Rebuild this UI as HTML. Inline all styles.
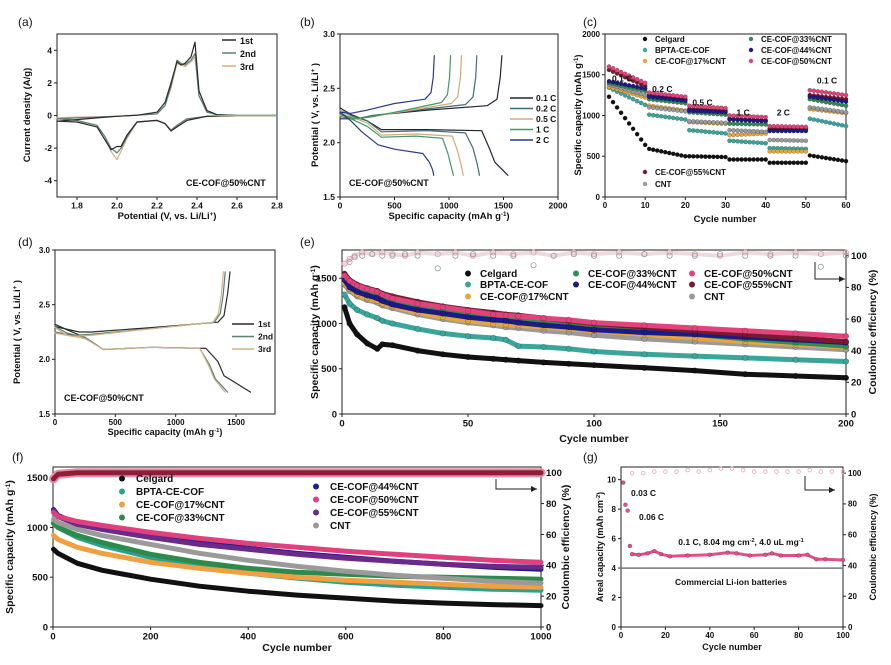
<!DOCTYPE html>
<html><head><meta charset="utf-8">
<style>
html,body{margin:0;padding:0;background:#fff;width:891px;height:665px;overflow:hidden;}
svg{display:block;font-family:"Liberation Sans",Arial,sans-serif;overflow:hidden;}
</style></head>
<body>
<svg id="fig" width="891" height="665" viewBox="0 0 891 665" xmlns="http://www.w3.org/2000/svg">
<rect x="0" y="0" width="891" height="665" fill="#fff"/>
</svg>
<script>
// ---------- Panel (a) CV data ----------
const aV  = [1.7,1.8,1.9,2.0,2.1,2.2,2.24,2.27,2.3,2.32,2.34,2.37,2.39,2.41,2.45,2.5,2.6,2.8, 2.6,2.45,2.35,2.3,2.27,2.24,2.2,2.1,2.05,2.02,2.0,1.97,1.94,1.9,1.8,1.7];
const a1I = [-0.35,-0.25,-0.15,-0.05,0.02,0.2,0.8,2.0,3.3,3.1,3.2,3.6,4.5,1.5,0.3,0.05,0,0, 0,-0.05,-0.3,-0.7,-0.95,-0.5,-0.3,-0.4,-1.2,-1.9,-1.9,-2.1,-1.5,-0.7,-0.4,-0.35];
const a2I = [-0.2,-0.15,-0.1,-0.05,0.02,0.1,0.6,1.8,3.4,3.2,3.1,3.4,3.8,1.2,0.2,0.05,0,0, 0,-0.05,-0.2,-0.6,-0.9,-0.5,-0.3,-0.4,-1.3,-2.0,-2.3,-2.0,-1.3,-0.6,-0.3,-0.2];
const a3I = [-0.15,-0.1,-0.08,-0.04,0.02,0.1,0.6,1.7,3.2,3.1,3.0,3.3,3.6,1.2,0.2,0.05,0,0, 0,-0.05,-0.2,-0.6,-0.9,-0.5,-0.3,-0.4,-1.4,-2.2,-2.7,-2.2,-1.3,-0.6,-0.3,-0.15];
const aLabels = ["1st","2nd","3rd"];

// ---------- Panel (b) rate charge/discharge ----------
const bRates = ["0.1 C","0.2 C","0.5 C","1 C","2 C"];
const bDisCap = [[0,100,250,380,800,1300,1370,1420,1540],[0,100,250,380,800,1150,1220,1260,1280],[0,100,250,380,700,1030,1080,1110,1130],[0,100,250,380,700,940,990,1020,1040],[0,100,200,350,500,760,820,850,860]];
const bDisV = [[2.32,2.26,2.2,2.12,2.12,2.11,1.95,1.82,1.7],[2.3,2.25,2.2,2.1,2.11,2.09,1.95,1.8,1.7],[2.3,2.24,2.18,2.07,2.08,2.06,1.92,1.8,1.7],[2.28,2.22,2.15,2.05,2.06,2.04,1.9,1.78,1.7],[2.28,2.2,2.1,1.98,1.94,1.9,1.82,1.75,1.7]];
const bChCap = [[0,150,300,800,1350,1440,1470,1485],[0,150,300,700,1150,1220,1245,1255],[0,150,300,650,1020,1080,1105,1115],[0,150,300,600,930,985,1005,1015],[0,100,250,500,780,835,855,865]];
const bChV = [[2.22,2.22,2.25,2.3,2.34,2.4,2.6,2.8],[2.24,2.22,2.25,2.3,2.35,2.42,2.6,2.8],[2.25,2.22,2.24,2.3,2.36,2.42,2.6,2.8],[2.26,2.22,2.24,2.3,2.37,2.44,2.6,2.8],[2.28,2.27,2.3,2.36,2.4,2.46,2.6,2.8]];

// ---------- Panel (c) rate performance (block start/end per rate) ----------
const cNames = ["Celgard","BPTA-CE-COF","CE-COF@17%CNT","CE-COF@33%CNT","CE-COF@44%CNT","CE-COF@50%CNT","CE-COF@55%CNT","CNT"];
const cCelgard = [1230,640, 590,500, 500,490, 460,460, 420,420, 510,440];
const cBPTA    = [1340,1130, 1010,950, 820,780, 690,660, 600,590, 960,870];
const c17      = [1350,1220, 1120,1060, 920,900, 760,780, 560,560, 1080,1030];
const c33      = [1400,1300, 1200,1150, 1040,1010, 900,890, 820,820, 1200,1120];
const c44      = [1420,1330, 1230,1180, 1060,1040, 950,930, 810,810, 1230,1170];
const c50      = [1600,1400, 1280,1230, 1120,1090, 1000,980, 870,860, 1310,1250];
const c55      = [1560,1360, 1250,1200, 1080,1060, 960,940, 840,840, 1250,1200];
const cCNT     = [1380,1250, 1100,1050, 930,910, 820,800, 700,690, 1100,1040];
const cRateLabels = ["0.1 C","0.2 C","0.5 C","1 C","2 C","0.1 C"];

// ---------- Panel (d) first three cycles ----------
const dDisCap = [[0,100,250,400,800,1250,1350,1400,1620],[0,100,250,400,800,1200,1280,1330,1430],[0,100,250,400,800,1200,1270,1320,1410]];
const dDisV = [[2.32,2.27,2.2,2.09,2.11,2.1,1.98,1.85,1.7],[2.3,2.24,2.2,2.09,2.11,2.1,1.95,1.82,1.7],[2.29,2.22,2.19,2.09,2.11,2.1,1.95,1.82,1.7]];
const dChCap = [[0,200,300,800,1350,1400,1430,1450],[0,150,300,800,1320,1370,1395,1410],[0,150,300,800,1310,1355,1380,1395]];
const dChV = [[2.3,2.25,2.25,2.29,2.34,2.4,2.6,2.8],[2.25,2.22,2.23,2.28,2.34,2.42,2.6,2.8],[2.24,2.21,2.22,2.28,2.34,2.42,2.6,2.8]];

// ---------- Panel (e) 200-cycle ----------
const eCycles = [1,3,6,10,14,16,20,30,40,50,60,65,70,80,90,100,120,140,160,180,200];
const eCelgard = [1180,1000,880,780,720,770,760,700,660,630,610,600,590,570,555,540,510,480,440,420,400];
const eBPTA    = [1320,1220,1150,1100,1060,1030,1000,940,890,860,840,820,750,740,720,690,660,640,620,600,580];
const e17      = [1450,1380,1320,1280,1250,1220,1190,1120,1070,1030,1000,990,980,960,940,920,880,840,800,770,740];
const e33      = [1500,1420,1370,1330,1300,1270,1250,1180,1130,1090,1050,1040,1030,1010,990,970,930,880,830,790,750];
const e44      = [1480,1400,1350,1310,1280,1250,1210,1150,1110,1070,1040,1030,1010,980,960,930,900,880,850,820,790];
const e50      = [1530,1470,1420,1380,1350,1320,1280,1220,1180,1140,1100,1090,1080,1060,1040,1010,980,950,920,890,860];
const e55      = [1550,1480,1430,1390,1360,1330,1300,1240,1190,1150,1120,1100,1090,1060,1030,1000,960,920,880,840,800];
const eCNT     = [1430,1360,1300,1260,1230,1200,1170,1100,1050,1010,980,960,950,920,900,870,830,800,770,740,710];
const eCECycles = [1,3,5,8,12,16,20,25,30,38,45,52,60,68,76,84,92,100,110,120,130,140,150,160,170,180,190,200];
const eCE1 = [88,96,99,100,101,100,100,101,100,92,100,101,100,100,94,100,101,100,100,101,100,100,101,100,100,100,93,100];
const eCE2 = [95,98,100,102,101,102,101,100,102,101,102,100,102,101,102,100,102,101,102,101,102,101,100,102,101,102,101,102];

// ---------- Panel (f) 1000-cycle ----------
const fCycles = [1,10,50,100,200,300,400,500,600,700,800,900,1000];
const fCelgard = [780,740,640,570,480,410,360,320,290,260,240,225,215];
const fBPTA    = [1050,1000,900,820,700,610,540,490,450,420,400,380,370];
const f17      = [920,880,800,740,650,590,540,500,470,450,430,410,400];
const f33      = [1040,1000,920,850,730,650,590,550,530,510,500,490,480];
const f44      = [1180,1120,1040,990,920,850,790,740,700,660,630,600,580];
const f50      = [1150,1110,1060,1020,950,890,840,800,760,730,700,670,650];
const f55      = [1170,1110,1030,980,900,830,780,730,690,660,630,610,600];
const fCNT     = [1080,1050,980,920,830,740,670,610,560,520,490,460,440];
const fCE      = [96,99,100,100,100,100,100,100,100,100,100,100,100];

// ---------- Panel (g) areal capacity ----------
const gCycles = [1,2,3,4,5,8,12,15,18,22,30,40,48,52,58,65,68,72,80,84,88,92,100];
const gCap = [9.8,8.3,7.9,5.5,4.95,4.9,5.0,5.15,4.95,4.8,4.85,4.9,5.05,5.0,4.85,4.9,5.0,4.85,4.85,4.9,4.6,4.6,4.55];
const gCECycles = [5,10,15,20,25,30,35,40,45,50,55,60,65,70,75,80,85,90,95,100];
const gCE = [100,100,101,101,101,102,101,102,103,103,102,101,101,101,101,101,102,101,101,101];
const gCommercial = [4.0];

// ================= drawing helpers =================
const NS = "http://www.w3.org/2000/svg";
const svg = document.getElementById("fig");
function mk(tag, attrs, name, parent){
  const el = document.createElementNS(NS, tag);
  for (const k in attrs) el.setAttribute(k, attrs[k]);
  
  
  (parent || svg).appendChild(el);
  return el;
}
function txt(x, y, s, o, name){
  o = o || {};
  const el = mk("text", {x:x, y:y, "font-size":o.size||9, "font-weight":o.weight||"bold", "text-anchor":o.anchor||"start", fill:o.fill||"#111"}, name);
  if (o.rot) el.setAttribute("transform", "rotate(" + o.rot + " " + x + " " + y + ")");
  el.textContent = s;
  return el;
}
function supTxt(x, y, parts, o, name){
  o = o || {};
  const el = mk("text", {x:x, y:y, "font-size":o.size||9, "font-weight":"bold", "text-anchor":o.anchor||"middle", fill:"#111"}, name);
  if (o.rot) el.setAttribute("transform", "rotate(" + o.rot + " " + x + " " + y + ")");
  parts.forEach(p => {
    const t = document.createElementNS(NS, "tspan");
    if (p[1]) { t.setAttribute("baseline-shift", "super"); t.setAttribute("font-size", (o.size||9)*0.65); }
    t.textContent = p[0];
    el.appendChild(t);
  });
  return el;
}
function axes(p){
  const sx = v => p.x0 + (v - p.xmin) / (p.xmax - p.xmin) * (p.x1 - p.x0);
  const sy = v => p.y1 - (v - p.ymin) / (p.ymax - p.ymin) * (p.y1 - p.y0);
  const sy2 = p.y2 ? (v => p.y1 - (v - p.y2.min) / (p.y2.max - p.y2.min) * (p.y1 - p.y0)) : null;
  const fs = p.fs || 9;
  p.xticks.forEach((t, i) => {
    mk("line", {x1:sx(t), x2:sx(t), y1:p.y1, y2:p.y1+3, stroke:"#222", "stroke-width":1}, p.id + "-x-tick");
    txt(sx(t), p.y1 + fs + 3, p.xlab ? p.xlab[i] : String(t), {anchor:"middle", size:fs}, p.id + "-x-tick-label");
  });
  p.yticks.forEach((t, i) => {
    mk("line", {x1:p.x0-3, x2:p.x0, y1:sy(t), y2:sy(t), stroke:"#222", "stroke-width":1}, p.id + "-y-tick");
    txt(p.x0 - 5, sy(t) + fs*0.35, p.ylab ? p.ylab[i] : String(t), {anchor:"end", size:fs}, p.id + "-y-tick-label");
  });
  if (p.y2) p.y2.ticks.forEach(t => {
    mk("line", {x1:p.x1, x2:p.x1+3, y1:sy2(t), y2:sy2(t), stroke:"#222", "stroke-width":1}, p.id + "-y2-tick");
    txt(p.x1 + 5, sy2(t) + fs*0.35, String(t), {size:fs}, p.id + "-y2-tick-label");
  });
  mk("rect", {x:p.x0, y:p.y0, width:p.x1-p.x0, height:p.y1-p.y0, fill:"none", stroke:"#222", "stroke-width":1}, p.id + "-plot-frame");
  return {sx, sy, sy2};
}
function poly(xs, ys, A, color, w, name, useY2){
  const f = useY2 ? A.sy2 : A.sy;
  const pts = xs.map((x, i) => A.sx(x).toFixed(1) + "," + f(ys[i]).toFixed(1)).join(" ");
  return mk("polyline", {points:pts, fill:"none", stroke:color, "stroke-width":w, "stroke-linejoin":"round", "stroke-linecap":"round"}, name);
}
function dots(xs, ys, A, color, r, name, open, useY2){
  const f = useY2 ? A.sy2 : A.sy;
  xs.forEach((x, i) => {
    mk("circle", {cx:A.sx(x), cy:f(ys[i]), r:r, fill:open ? "none" : color, stroke:open ? color : "rgba(0,0,0,0.35)", "stroke-width":open ? 0.8 : 0.5}, name);
  });
}
function arrowRight(x, y1, y2, x2, name){
  mk("polyline", {points:x+","+y1+" "+x+","+y2+" "+x2+","+y2, fill:"none", stroke:"#222", "stroke-width":1}, name);
  mk("polygon", {points:x2+","+y2+" "+(x2-6)+","+(y2-3)+" "+(x2-6)+","+(y2+3), fill:"#222"}, name + "-head");
}

// ================= Panel (a) =================
txt(18, 26, "(a)", {size:12, weight:"normal"}, "panel-a-label");
const A = axes({id:"a", x0:57, x1:277, y0:34, y1:197, xmin:1.7, xmax:2.8, ymin:-5, ymax:5,
  xticks:[1.8,2.0,2.2,2.4,2.6,2.8], xlab:["1.8","2.0","2.2","2.4","2.6","2.8"], yticks:[-4,-2,0,2,4], fs:8.5});
const aColors = ["#2a2a2a","#5b8075","#d2b184"];
[a3I, a2I, a1I].forEach((s, k) => poly(aV, s, A, aColors[2-k], 1.2, "cv-curve-" + aLabels[2-k]));
poly([2.45, 2.8], [0, 0], A, "#e08a50", 1, "cv-baseline");
aLabels.forEach((l, i) => {
  mk("line", {x1:222, x2:236, y1:40+i*13, y2:40+i*13, stroke:aColors[i], "stroke-width":1.5}, "legend-line-" + l);
  txt(240, 44+i*13, l, {size:9}, "legend-label-" + l);
});
txt(186, 186, "CE-COF@50%CNT", {size:9}, "panel-a-annotation");
txt(30, 115, "Current density (A/g)", {size:9.5, anchor:"middle", rot:-90}, "y-axis-title-a");
supTxt(167, 219, [["Potential (V, vs. Li/Li"],["+",1],[")"]], {size:9.5}, "x-axis-title-a");

// ================= Panel (b) =================
txt(300, 26, "(b)", {size:12, weight:"normal"}, "panel-b-label");
const B = axes({id:"b", x0:340, x1:558, y0:34, y1:197, xmin:0, xmax:2000, ymin:1.5, ymax:3.0,
  xticks:[0,500,1000,1500,2000], yticks:[1.5,2.0,2.5,3.0], ylab:["1.5","2.0","2.5","3.0"], fs:8.5});
const bColors = ["#23233a","#3f6f6e","#d6a878","#3f9a63","#2a3a8c"];
bRates.forEach((r, i) => {
  poly(bDisCap[i], bDisV[i], B, bColors[i], 1.2, "discharge-curve-" + r);
  poly(bChCap[i], bChV[i], B, bColors[i], 1.2, "charge-curve-" + r);
  mk("line", {x1:510, x2:533, y1:98+i*10.5, y2:98+i*10.5, stroke:bColors[i], "stroke-width":1.5}, "legend-line-" + r);
  txt(536, 101+i*10.5, r, {size:8.5}, "legend-label-" + r);
});
txt(349, 186, "CE-COF@50%CNT", {size:9}, "panel-b-annotation");
supTxt(318, 115, [["Potential ( V, vs. Li/Li"],["+",1],[" )"]], {size:9.5, rot:-90}, "y-axis-title-b");
supTxt(449, 219, [["Specific capacity (mAh g"],["-1",1],[")"]], {size:9.5}, "x-axis-title-b");

// ================= Panel (c) =================
txt(583, 26, "(c)", {size:12, weight:"normal"}, "panel-c-label");
const C = axes({id:"c", x0:605, x1:846, y0:34, y1:197, xmin:0, xmax:60, ymin:0, ymax:2000,
  xticks:[0,10,20,30,40,50,60], yticks:[0,500,1000,1500,2000], fs:8});
const cSeries = [cCelgard,cBPTA,c17,c33,c44,c50,c55,cCNT];
const cColors = ["#111111","#3aa59a","#e8a53a","#2f8c52","#1b1b85","#e2437c","#7a1a2e","#9a9a9a"];
const cDraw = [0,1,2,7,3,6,4,5];
cDraw.forEach(si => {
  const s = cSeries[si];
  for (let b = 0; b < 6; b++) {
    const xs = [], ys = [];
    for (let k = 0; k < 10; k++) { xs.push(b*10 + k + 1); ys.push(s[2*b] + (s[2*b+1] - s[2*b]) * (k/9)); }
    dots(xs, ys, C, cColors[si], 2.1, "rate-point-" + cNames[si]);
  }
});
const cRateX = [1, 11, 21, 32, 42, 52];
const cRateY = [1420, 1290, 1120, 1000, 1000, 1390];
cRateLabels.forEach((l, i) => txt(C.sx(cRateX[i]) + 3, C.sy(cRateY[i]), l, {size:8.5}, "rate-label-" + i));
const cLeg = [[0,645,42],[1,645,53],[2,645,64],[3,751,42],[4,751,53],[5,751,64],[6,645,175],[7,645,187]];
cLeg.forEach(e => {
  mk("circle", {cx:e[1], cy:e[2]-3, r:2.2, fill:cColors[e[0]]}, "legend-marker-" + cNames[e[0]]);
  txt(e[1]+10, e[2], cNames[e[0]], {size:8}, "legend-label-" + cNames[e[0]]);
});
supTxt(581, 115, [["Specific capacity (mAh g"],["-1",1],[")"]], {size:9.5, rot:-90}, "y-axis-title-c");
txt(725, 222, "Cycle number", {size:9.5, anchor:"middle"}, "x-axis-title-c");

// ================= Panel (d) =================
txt(18, 246, "(d)", {size:12, weight:"normal"}, "panel-d-label");
const D = axes({id:"d", x0:55, x1:275, y0:250, y1:414, xmin:0, xmax:1823, ymin:1.5, ymax:3.0,
  xticks:[0,500,1000,1500], yticks:[1.5,2.0,2.5,3.0], ylab:["1.5","2.0","2.5","3.0"], fs:8});
dDisCap.forEach((c, i) => {
  poly(c, dDisV[i], D, aColors[i], 1.2, "discharge-curve-" + aLabels[i]);
  poly(dChCap[i], dChV[i], D, aColors[i], 1.2, "charge-curve-" + aLabels[i]);
  mk("line", {x1:232, x2:254, y1:324+i*12.5, y2:324+i*12.5, stroke:aColors[i], "stroke-width":1.5}, "legend-line-d-" + aLabels[i]);
  txt(258, 327+i*12.5, aLabels[i], {size:8.5}, "legend-label-d-" + aLabels[i]);
});
txt(64, 401, "CE-COF@50%CNT", {size:9}, "panel-d-annotation");
supTxt(20, 332, [["Potential ( V, vs. Li/Li"],["+",1],[" )"]], {size:9.5, rot:-90}, "y-axis-title-d");
supTxt(165, 435, [["Specific capacity (mAh g"],["-1",1],[")"]], {size:9}, "x-axis-title-d");

// ================= Panel (e) =================
txt(300, 246, "(e)", {size:12, weight:"normal"}, "panel-e-label");
const E = axes({id:"e", x0:342, x1:846, y0:250, y1:414, xmin:0, xmax:200, ymin:0, ymax:1812,
  xticks:[0,50,100,150,200], yticks:[0,500,1000,1500], y2:{min:0, max:103.6, ticks:[0,20,40,60,80,100]}, fs:9.5});
dots(eCECycles, eCE2, E, "#d9a0b0", 2.6, "coulombic-efficiency-point", true, true);
dots(eCECycles, eCE1, E, "#999999", 2.6, "coulombic-efficiency-point", true, true);
poly(eCECycles, eCE2, E, "rgba(200,150,160,0.35)", 4, "coulombic-efficiency-band", true);
const eSeries = [eCelgard,eBPTA,e17,e33,e44,e50,e55,eCNT];
[0,1,7,2,3,4,6,5].forEach(si => {
  poly(eCycles, eSeries[si], E, cColors[si], 5, "capacity-series-" + cNames[si]);
  dots(eCycles, eSeries[si], E, cColors[si], 2.8, "capacity-point-" + cNames[si]);
});
const eLeg = [[0,468,277],[1,468,288],[2,468,300],[3,576,277],[4,576,288],[5,692,277],[6,692,288],[7,692,300]];
eLeg.forEach(e => {
  mk("circle", {cx:e[1], cy:e[2]-3.5, r:3, fill:cColors[e[0]]}, "legend-marker-e-" + cNames[e[0]]);
  txt(e[1]+12, e[2], cNames[e[0]], {size:10}, "legend-label-e-" + cNames[e[0]]);
});
arrowRight(815, 262, 279, 845, "ce-axis-arrow-e");
supTxt(318, 332, [["Specific capacity (mAh g"],["-1",1],[")"]], {size:10.5, rot:-90}, "y-axis-title-e");
txt(876, 332, "Coulombic efficiency (%)", {size:10.5, anchor:"middle", rot:-90}, "y2-axis-title-e");
txt(594, 442, "Cycle number", {size:10.5, anchor:"middle"}, "x-axis-title-e");

// ================= Panel (f) =================
txt(12, 461, "(f)", {size:12, weight:"normal"}, "panel-f-label");
const F = axes({id:"f", x0:53, x1:541, y0:467, y1:627, xmin:0, xmax:1000, ymin:0, ymax:1607,
  xticks:[0,200,400,600,800,1000], yticks:[0,500,1000,1500], y2:{min:0, max:103.7, ticks:[0,20,40,60,80,100]}, fs:9.5});
poly(fCycles, fCE, F, "#e88aa8", 9, "coulombic-efficiency-band-f", true);
poly(fCycles, fCE, F, "#8a1f35", 5, "coulombic-efficiency-core-f", true);
const fSeries = [fCelgard,fBPTA,f17,f33,f44,f50,f55,fCNT];
const fColors = ["#111111","#2fa08d","#f0a040","#2c8a4a","#1d1d8c","#e0407e","#6a2a8a","#9a9a9a"];
[0,1,2,3,7,4,6,5].forEach(si => {
  poly(fCycles, fSeries[si], F, fColors[si], 5, "capacity-series-f-" + cNames[si]);
});
const fLeg = [[0,122,482],[1,122,495],[2,122,508],[3,122,521],[4,316,490],[5,316,503],[6,316,516],[7,316,529]];
fLeg.forEach(e => {
  mk("circle", {cx:e[1], cy:e[2]-3.5, r:3, fill:fColors[e[0]]}, "legend-marker-f-" + cNames[e[0]]);
  txt(e[1]+14, e[2], cNames[e[0]], {size:10}, "legend-label-f-" + cNames[e[0]]);
});
arrowRight(496, 479, 489, 537, "ce-axis-arrow-f");
supTxt(13, 547, [["Specific capacity (mAh g"],["-1",1],[")"]], {size:10.5, rot:-90}, "y-axis-title-f");
txt(569, 547, "Coulombic efficiency (%)", {size:10.5, anchor:"middle", rot:-90}, "y2-axis-title-f");
txt(297, 651, "Cycle number", {size:10.5, anchor:"middle"}, "x-axis-title-f");

// ================= Panel (g) =================
txt(583, 461, "(g)", {size:12, weight:"normal"}, "panel-g-label");
const G = axes({id:"g", x0:621, x1:843, y0:467, y1:627, xmin:0, xmax:100, ymin:0, ymax:10.86,
  xticks:[0,20,40,60,80,100], yticks:[0,2,4,6,8,10], y2:{min:0, max:104, ticks:[0,20,40,60,80,100]}, fs:8});
poly([0,100], [gCommercial[0], gCommercial[0]], G, "#777", 1.5, "commercial-reference-line");
dots(gCECycles, gCE, G, "#e6a8c0", 1.8, "coulombic-efficiency-point-g", true, true);
poly(gCycles.slice(4), gCap.slice(4), G, "#e0508a", 3, "areal-capacity-band");
dots(gCycles, gCap, G, "#e0508a", 2, "areal-capacity-point");
txt(631, 496, "0.03 C", {size:8.5}, "rate-label-003C");
txt(639, 520, "0.06 C", {size:8.5}, "rate-label-006C");
supTxt(741, 545, [["0.1 C, 8.04 mg cm"],["-2",1],[", 4.0 uL mg"],["-1",1]], {size:8.5}, "test-condition-label");
txt(731, 585, "Commercial Li-ion batteries", {size:8.5, anchor:"middle"}, "commercial-label");
arrowRight(805, 476, 490, 835, "ce-axis-arrow-g");
supTxt(603, 547, [["Areal capacity (mAh cm"],["-2",1],[")"]], {size:9, rot:-90}, "y-axis-title-g");
txt(876, 547, "Coulombic efficiency (%)", {size:9, anchor:"middle", rot:-90}, "y2-axis-title-g");
txt(732, 650, "Cycle number", {size:9, anchor:"middle"}, "x-axis-title-g");
</script>
</body></html>
